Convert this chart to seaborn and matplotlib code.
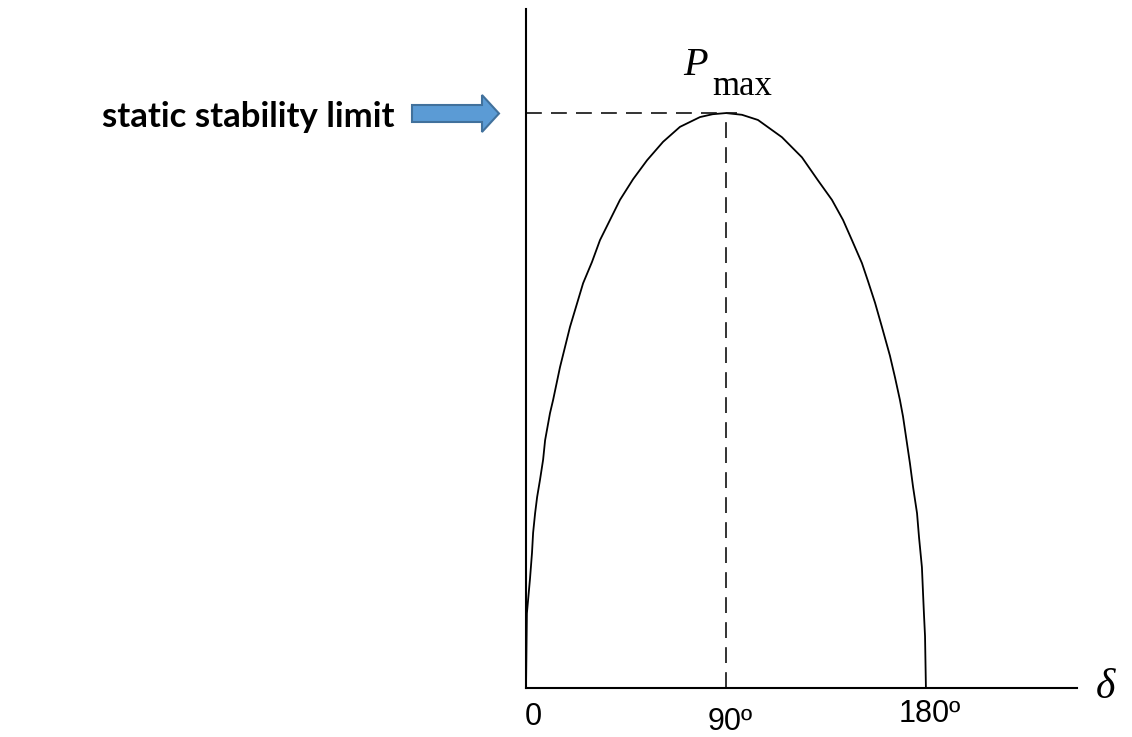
import matplotlib
matplotlib.use("Agg")
import matplotlib.pyplot as plt
import matplotlib.patches as mpatches
import pandas as pd
import seaborn as sns

# power-angle curve (delta in degrees, P in units of Pmax)
delta_deg = [0, 0.4, 1.8, 2.7, 3.2, 4.1, 5.0, 6.3, 7.7, 8.6, 10.8, 12.2, 15.3,
             19.8, 25.7, 29.7, 33.3, 37.8, 42.3, 48.2, 54.5, 61.7, 69.3, 78.3,
             84, 90, 97.2, 104.4, 115.2, 124.2, 131.4, 137.7, 142.7, 146.7,
             151.2, 153.9, 157.1, 160.2, 163.8, 166.1, 168.3, 169.7, 171.5,
             172.8, 174.2, 176, 176.9, 178.2, 178.7, 179.1, 179.6, 180]
power = [0, 0.13, 0.19, 0.235, 0.27, 0.304, 0.332, 0.362, 0.397, 0.431, 0.478,
         0.501, 0.558, 0.628, 0.704, 0.741, 0.779, 0.814, 0.849, 0.885, 0.918,
         0.950, 0.976, 0.993, 0.998, 1.0, 0.997, 0.988, 0.958, 0.923, 0.883,
         0.849, 0.814, 0.779, 0.739, 0.708, 0.670, 0.628, 0.578, 0.540, 0.501,
         0.472, 0.425, 0.391, 0.350, 0.304, 0.262, 0.210, 0.165, 0.130, 0.090, 0]

P_MAX = 1.0
DELTA_PEAK = 90
tick_pos = [0, 90, 180]
tick_labels = ['0', '90\u00ba', '180\u00ba']
tick_drop = [-10, -14, -8]   # the labels in the source sit at uneven heights

W, H = 1132, 737

sns.set_theme(style="white")
plt.rcParams['font.family'] = ['Liberation Sans', 'DejaVu Sans']
plt.rcParams['text.color'] = 'black'

fig = plt.figure(figsize=(W / 100, H / 100), dpi=100)

# axes placed to match the reference pixel layout
ax_left, ax_right, ax_bottom, ax_top = 526, 1077, 688, 9
ax = fig.add_axes([ax_left / W, (H - ax_bottom) / H,
                   (ax_right - ax_left) / W, (ax_bottom - ax_top) / H])
ax.set_xlim(0, 248)
ax.set_ylim(0, 1.181)

df = pd.DataFrame({'delta': delta_deg, 'P': power})
sns.lineplot(data=df, x='delta', y='P', sort=False, estimator=None,
             color='black', linewidth=1.3, ax=ax)

# dashed guides to the maximum
ax.hlines(P_MAX, 0, DELTA_PEAK + 5, colors='#111111', linewidth=1.2,
          linestyles=(0, (9.5, 5.5)))
ax.vlines(DELTA_PEAK, 0, P_MAX, colors='#111111', linewidth=1.2,
          linestyles=(0, (9.5, 5.5)))

for s in ['top', 'right']:
    ax.spines[s].set_visible(False)
for s in ['left', 'bottom']:
    ax.spines[s].set_color('black')
    ax.spines[s].set_linewidth(1.5)
ax.set_xticks([])
ax.set_yticks([])
ax.set_xlabel('')
ax.set_ylabel('')

# tick labels below the axis
for pos, lab, dy in zip(tick_pos, tick_labels, tick_drop):
    ax.annotate(lab, xy=(pos, 0), xytext=(5 if pos == 0 else 3, dy),
                textcoords='offset points', ha='center', va='top',
                fontsize=22, color='black')

# delta axis label
fig.text(1105 / W, 1 - 688 / H, '\u03b4', fontsize=30, style='italic',
         family=['Liberation Serif', 'DejaVu Serif'], ha='center', va='center')

# P_max label
fig.text(683 / W, 1 - 75 / H, 'P', fontsize=29, style='italic',
         family=['Liberation Serif', 'DejaVu Serif'], ha='left', va='baseline')
fig.text(712 / W, 1 - 95 / H, 'max', fontsize=25,
         family=['Liberation Serif', 'DejaVu Serif'], ha='left', va='baseline')

# annotation text and blue block arrow
fig.text(394 / W, 1 - 117 / H, 'static stability limit', fontsize=25,
         fontweight='bold', family=['Lato', 'DejaVu Sans'], ha='right', va='center')

arrow_px = [(412, 105), (482, 105), (482, 95), (499, 113.5), (482, 132),
            (482, 122), (412, 122)]
arrow = mpatches.Polygon([(x / W, 1 - y / H) for x, y in arrow_px], closed=True,
                         transform=fig.transFigure, facecolor='#5B9BD5',
                         edgecolor='#41719C', linewidth=1.5)
fig.patches.append(arrow)

fig.savefig('out.png', dpi=100)
